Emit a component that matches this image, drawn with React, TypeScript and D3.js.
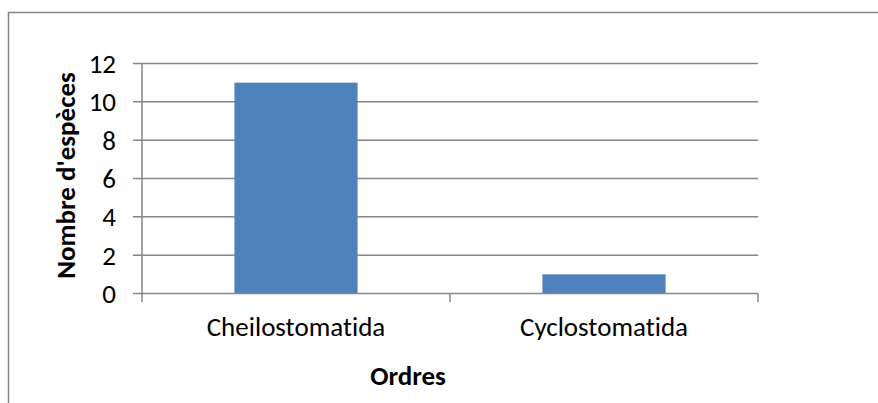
import React from "react";
import * as d3 from "d3";

const categories = ["Cheilostomatida", "Cyclostomatida"];
const values = [11, 1];
const yTicks = [0, 2, 4, 6, 8, 10, 12];
const yTitle = "Nombre d'espèces";
const xTitle = "Ordres";

const W = 878;
const H = 403;
const FONT = "Carlito, Calibri, Lato, 'Noto Sans', sans-serif";
const FS = 27;

export default function App() {
  const left = 142;
  const right = 758;
  const top = 63.5;
  const bottom = 293.5;
  const x = d3.scaleBand<string>().domain(categories).range([left, right]).paddingInner(0.6).paddingOuter(0.3);
  const xb = d3.scaleBand<string>().domain(categories).range([left, right]);
  const y = d3.scaleLinear().domain([0, 12]).range([bottom, top]);
  const grid = "#868686";
  return (
    <svg
      width={W}
      height={H}
      style={{ position: "absolute", left: 0, top: 0, background: "#fff", fontVariantLigatures: "none", fontFeatureSettings: '"liga" 0, "clig" 0' }}
    >
      <rect x={8.5} y={12.5} width={W + 10} height={H + 10} fill="#fff" stroke={grid} strokeWidth={1.5} />
      {yTicks.map((t) => (
        <g key={t}>
          <line x1={133} x2={t === 0 ? left : right} y1={y(t)} y2={y(t)} stroke={grid} strokeWidth={1.5} />
          <text x={116} y={y(t)} dy="0.35em" textAnchor="end" fontFamily={FONT} fontSize={FS} fill="#000">
            {t}
          </text>
        </g>
      ))}
      {categories.map((c, i) => (
        <rect key={c} x={x(c)} y={y(values[i])} width={x.bandwidth()} height={y(0) - y(values[i])} fill="#4F81BD" />
      ))}
      <line x1={left} x2={left} y1={top} y2={bottom} stroke={grid} strokeWidth={1.5} />
      <line x1={left} x2={right} y1={bottom} y2={bottom} stroke={grid} strokeWidth={1.5} />
      {[left, ...categories.map((c) => (xb(c) as number) + xb.bandwidth())].map((px, i) => (
        <line key={i} x1={px} x2={px} y1={bottom} y2={bottom + 8.5} stroke={grid} strokeWidth={1.5} />
      ))}
      {categories.map((c) => (
        <text key={c} x={(xb(c) as number) + xb.bandwidth() / 2} y={336} textAnchor="middle" fontFamily={FONT} fontSize={FS} fill="#000">
          {c}
        </text>
      ))}
      <text x={408} y={385} textAnchor="middle" fontFamily={FONT} fontSize={FS} fontWeight="bold" fill="#000">
        {xTitle}
      </text>
      <text
        transform={`translate(75, ${(top + bottom) / 2 - 3}) rotate(-90)`}
        textAnchor="middle"
        fontFamily={FONT}
        fontSize={FS}
        fontWeight="bold"
        fill="#000"
      >
        {yTitle}
      </text>
    </svg>
  );
}
